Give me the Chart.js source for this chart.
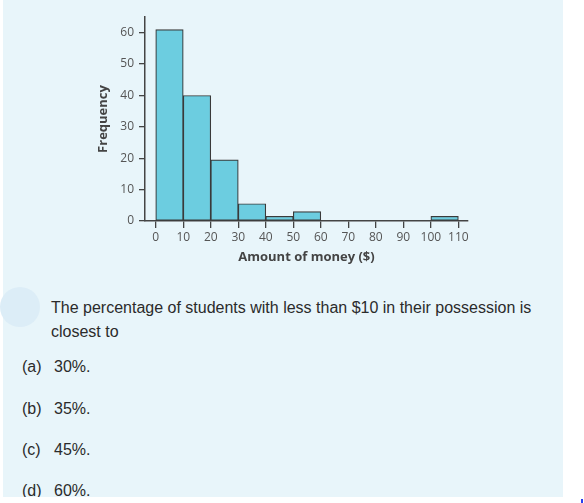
<!DOCTYPE html>
<html>
<head>
<meta charset="utf-8">
<script src="https://cdn.jsdelivr.net/npm/chart.js@4.4.1/dist/chart.umd.min.js"></script>
<style>
  html, body { margin: 0; padding: 0; background: #fff; width: 584px; height: 503px; overflow: hidden; }
  #panel { position: absolute; left: 3px; top: 0; width: 560px; height: 497px; background: #e8f5fa; overflow: hidden; }
  #wrap { position: absolute; left: -3px; top: 0; width: 584px; height: 280px; }
  #dot { position: absolute; left: 0; top: 287px; width: 40px; height: 40px; border-radius: 50%; background: #dcedf7; }
  .txt { position: absolute; font-family: "Liberation Sans", Arial, sans-serif; font-size: 16px; line-height: 24px; color: #2b2b2b; white-space: nowrap; }
  .opt span { position: absolute; left: 32px; }
  #mark { position: absolute; left: 581px; top: 499px; width: 2px; height: 4px; background: #2a3cf0; }
</style>
</head>
<body>
<div id="panel">
  <div id="wrap"><canvas id="hist"></canvas></div>
  <div class="txt" style="left:48px; top:296px;">The percentage of students with less than $10 in their possession is<br>closest to</div>
  <div class="txt opt" style="left:19px; top:355px;">(a)<span>30%.</span></div>
  <div class="txt opt" style="left:19px; top:397px;">(b)<span>35%.</span></div>
  <div class="txt opt" style="left:19px; top:438px;">(c)<span>45%.</span></div>
  <div class="txt opt" style="left:19px; top:479px;">(d)<span>60%.</span></div>
</div>
<div id="dot"></div>
<div id="mark"></div>
<script>
// bins (lower edge, $) and frequencies
const binStart = [0, 10, 20, 30, 40, 50, 60, 70, 80, 90, 100];
const binWidth = 10;
const freq = [61, 40, 19.5, 5.5, 1.5, 3, 0, 0, 0, 0, 1.5];
const xTicks = [0, 10, 20, 30, 40, 50, 60, 70, 80, 90, 100, 110];
const yTicks = [0, 10, 20, 30, 40, 50, 60];

const fill = "#6ccde0";
const edge = "#3a3a3a";
const axis = "#444";

const points = [];
binStart.forEach((b, i) => {
  if (freq[i] > 0) points.push({ x: b + binWidth / 2, y: freq[i] });
});

const ctx = document.getElementById("hist");
const hist = new Chart(ctx, {
  type: "bar",
  data: {
    datasets: [
      {
        data: points,
        backgroundColor: fill,
        borderColor: edge,
        borderWidth: 1.2,
        borderSkipped: false,
        barPercentage: 1,
        categoryPercentage: 1,
      },
    ],
  },
  options: {
    responsive: true,
    maintainAspectRatio: false,
    animation: false,
    layout: { padding: { left: 95, right: 116, top: 17, bottom: 15 } },
    scales: {
      x: {
        type: "linear",
        min: -3.9,
        max: 113.5,
        offset: false,
        afterFit: (s) => { s.height = 44; },
        afterBuildTicks: (s) => { s.ticks = xTicks.map((v) => ({ value: v })); },
        ticks: { color: "#555", padding: 2, font: { family: "Open Sans", size: 12 }, maxRotation: 0 },
        grid: { display: true, offset: false, drawOnChartArea: false, drawTicks: true, tickLength: 7, color: axis, lineWidth: 1.3 },
        border: { display: true, color: axis, width: 1.5 },
        title: { display: true, text: "Amount of money ($)", color: "#444", padding: 0, font: { family: "Open Sans", size: 13, weight: "bold" } },
      },
      y: {
        min: 0,
        max: 65,
        afterFit: (s) => { s.width = 50; },
        afterBuildTicks: (s) => { s.ticks = yTicks.map((v) => ({ value: v })); },
        ticks: { color: "#555", padding: 5, font: { family: "Open Sans", size: 12 } },
        grid: { display: true, drawOnChartArea: false, drawTicks: true, tickLength: 6, color: axis, lineWidth: 1.3 },
        border: { display: true, color: axis, width: 1.5 },
        title: { display: true, text: "Frequency", color: "#444", padding: 0, font: { family: "Open Sans", size: 13, weight: "bold" } },
      },
    },
    plugins: {
      legend: { display: false },
      tooltip: { enabled: false },
    },
  },
});
</script>
</body>
</html>
